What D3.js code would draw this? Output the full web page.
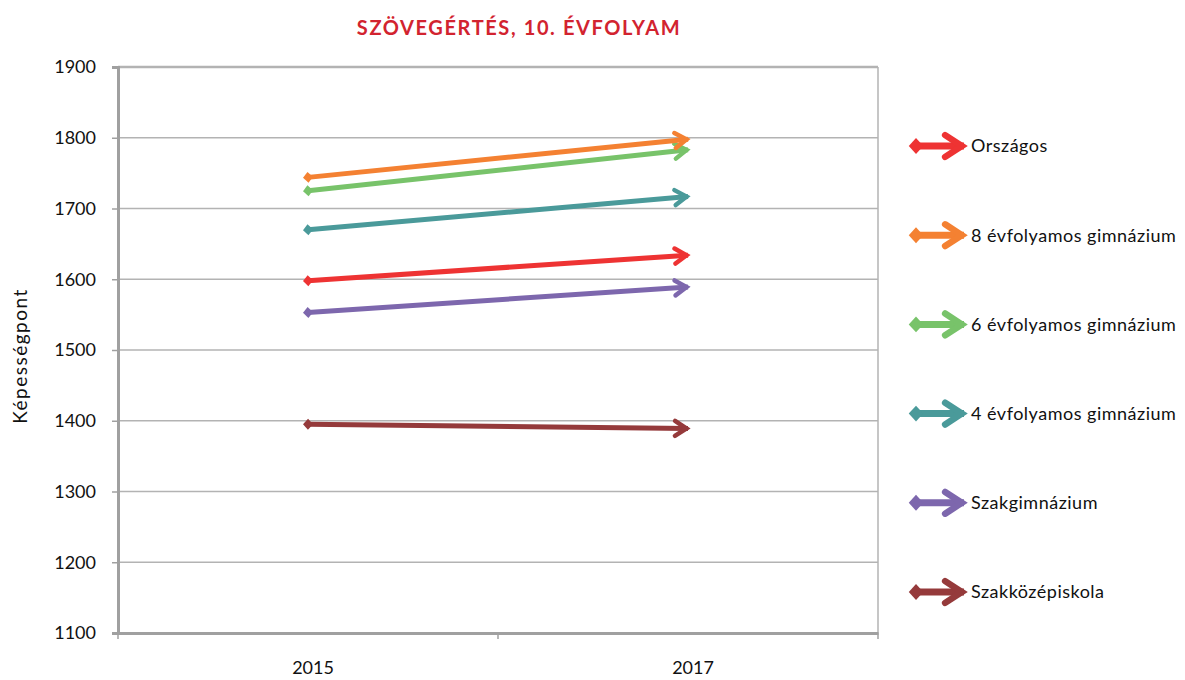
<!DOCTYPE html>
<html>
<head>
<meta charset="utf-8">
<script src="https://cdn.jsdelivr.net/npm/d3@7"></script>
<style>
  body { margin: 0; background: #fff; }
  svg { display: block; font-family: "Lato", "DejaVu Sans", sans-serif; }
</style>
</head>
<body>
<div id="chart"></div>
<script>
const years = ["2015", "2017"];
const seriesNames = [
  "Országos",
  "8 évfolyamos gimnázium",
  "6 évfolyamos gimnázium",
  "4 évfolyamos gimnázium",
  "Szakgimnázium",
  "Szakközépiskola",
];
const seriesColors = ["#ee3333", "#f48132", "#78c36a", "#4a9a9a", "#7d67ad", "#953a3b"];
const valuesOrszagos = [1598, 1634];
const values8evf = [1744, 1798];
const values6evf = [1725, 1783];
const values4evf = [1670, 1717];
const valuesSzakgimn = [1553, 1589];
const valuesSzakkozep = [1395, 1389];
const yTicks = [1100, 1200, 1300, 1400, 1500, 1600, 1700, 1800, 1900];

const allValues = [valuesOrszagos, values8evf, values6evf, values4evf, valuesSzakgimn, valuesSzakkozep];
const series = seriesNames.map((name, i) => ({
  name,
  i,
  color: seriesColors[i],
  points: years.map((y, j) => ({ year: y, value: allValues[i][j] })),
}));

const width = 1185;
const height = 680;
const plot = { left: 118, right: 878, top: 67, bottom: 633 };

const svg = d3.select("#chart").append("svg")
  .attr("width", width)
  .attr("height", height);

const x = d3.scaleBand().domain(years).range([plot.left, plot.right]);
const y = d3.scaleLinear().domain([1100, 1900]).range([plot.bottom, plot.top]);

// markers: chart size and (bigger) legend size
const defs = svg.append("defs");
function addMarkers(prefix, k) {
  series.forEach((s) => {
    defs.append("marker")
      .attr("id", prefix + "arrow" + s.i)
      .attr("markerUnits", "userSpaceOnUse")
      .attr("viewBox", "-30 -20 40 40")
      .attr("markerWidth", 40).attr("markerHeight", 40)
      .attr("refX", 0).attr("refY", 0)
      .attr("orient", "auto")
      .append("path")
      .attr("d", `M${-13 * k},${-7.5 * k}L${-1.5 * k},0L${-13 * k},${7.5 * k}`)
      .attr("fill", "none")
      .attr("stroke", s.color)
      .attr("stroke-width", 4.5 * k)
      .attr("stroke-linecap", "round")
      .attr("stroke-linejoin", "miter");
    defs.append("marker")
      .attr("id", prefix + "diamond" + s.i)
      .attr("markerUnits", "userSpaceOnUse")
      .attr("viewBox", "-12 -12 24 24")
      .attr("markerWidth", 24).attr("markerHeight", 24)
      .attr("refX", 0).attr("refY", 0)
      .attr("orient", "auto")
      .append("path")
      .attr("d", `M${-5 * k},0L0,${-5.5 * k}L${5 * k},0L0,${5.5 * k}Z`)
      .attr("fill", s.color);
  });
}
addMarkers("c", 1);
addMarkers("l", 1.45);

// title
svg.append("text")
  .attr("x", 519).attr("y", 35)
  .attr("text-anchor", "middle")
  .attr("font-size", 20).attr("font-weight", "bold")
  .attr("letter-spacing", 1.6)
  .attr("fill", "#d2232f")
  .text("SZÖVEGÉRTÉS, 10. ÉVFOLYAM");

// gridlines
svg.append("g")
  .selectAll("line")
  .data(yTicks)
  .join("line")
  .attr("x1", plot.left).attr("x2", plot.right)
  .attr("y1", d => y(d)).attr("y2", d => y(d))
  .attr("stroke", "#b3b3b3")
  .attr("stroke-width", d => d === 1900 ? 2.5 : 1.5);

// right border
svg.append("line")
  .attr("x1", plot.right).attr("x2", plot.right)
  .attr("y1", plot.top).attr("y2", plot.bottom)
  .attr("stroke", "#b3b3b3").attr("stroke-width", 1.5);

// y axis
const yAxis = svg.append("g")
  .attr("transform", `translate(${plot.left},0)`)
  .call(d3.axisLeft(y).tickValues(yTicks).tickSize(6).tickPadding(16).tickFormat(d3.format("d")));
yAxis.select(".domain").attr("stroke", "#a0a0a0").attr("stroke-width", 3);
yAxis.selectAll(".tick line").attr("stroke", "#a0a0a0").attr("stroke-width", 1.5);
yAxis.selectAll(".tick text")
  .attr("font-size", 18).attr("fill", "#111")
  .attr("font-family", "Lato, sans-serif");

// x axis
const xAxis = svg.append("g")
  .attr("transform", `translate(0,${plot.bottom})`)
  .call(d3.axisBottom(x).tickSize(0).tickPadding(28));
xAxis.select(".domain").attr("stroke", "#a0a0a0").attr("stroke-width", 3);
xAxis.selectAll(".tick text")
  .attr("x", 5)
  .attr("font-size", 18).attr("fill", "#111")
  .attr("font-family", "Lato, sans-serif");
// category boundary ticks
svg.append("g")
  .selectAll("line")
  .data([plot.left, plot.left + x.bandwidth(), plot.right])
  .join("line")
  .attr("x1", d => d).attr("x2", d => d)
  .attr("y1", plot.bottom).attr("y2", plot.bottom + 6)
  .attr("stroke", "#a0a0a0").attr("stroke-width", 1.5);

// y title
svg.append("text")
  .attr("transform", `translate(27,${(plot.top + plot.bottom) / 2 + 6}) rotate(-90)`)
  .attr("text-anchor", "middle")
  .attr("font-size", 19).attr("fill", "#111")
  .attr("letter-spacing", 1.5)
  .text("Képességpont");

// lines
const line = d3.line()
  .x(d => x(d.year) + x.bandwidth() / 2)
  .y(d => y(d.value));

svg.append("g")
  .selectAll("path")
  .data(series.slice().reverse())
  .join("path")
  .attr("d", d => line(d.points))
  .attr("fill", "none")
  .attr("stroke", d => d.color)
  .attr("stroke-width", 5)
  .attr("marker-start", d => `url(#cdiamond${d.i})`)
  .attr("marker-end", d => `url(#carrow${d.i})`);

// legend
const legendY = d3.scalePoint().domain(seriesNames).range([146, 592]);
const leg = svg.append("g").selectAll("g")
  .data(series)
  .join("g")
  .attr("transform", d => `translate(909,${legendY(d.name)})`);
leg.append("line")
  .attr("x1", 7).attr("x2", 55)
  .attr("y1", 0).attr("y2", 0)
  .attr("stroke", d => d.color)
  .attr("stroke-width", 7)
  .attr("marker-start", d => `url(#ldiamond${d.i})`)
  .attr("marker-end", d => `url(#larrow${d.i})`);
leg.append("text")
  .attr("x", 62).attr("y", 0)
  .attr("dy", "0.35em")
  .attr("font-size", 18).attr("fill", "#111")
  .attr("letter-spacing", 0.5)
  .text(d => d.name);
</script>
</body>
</html>
